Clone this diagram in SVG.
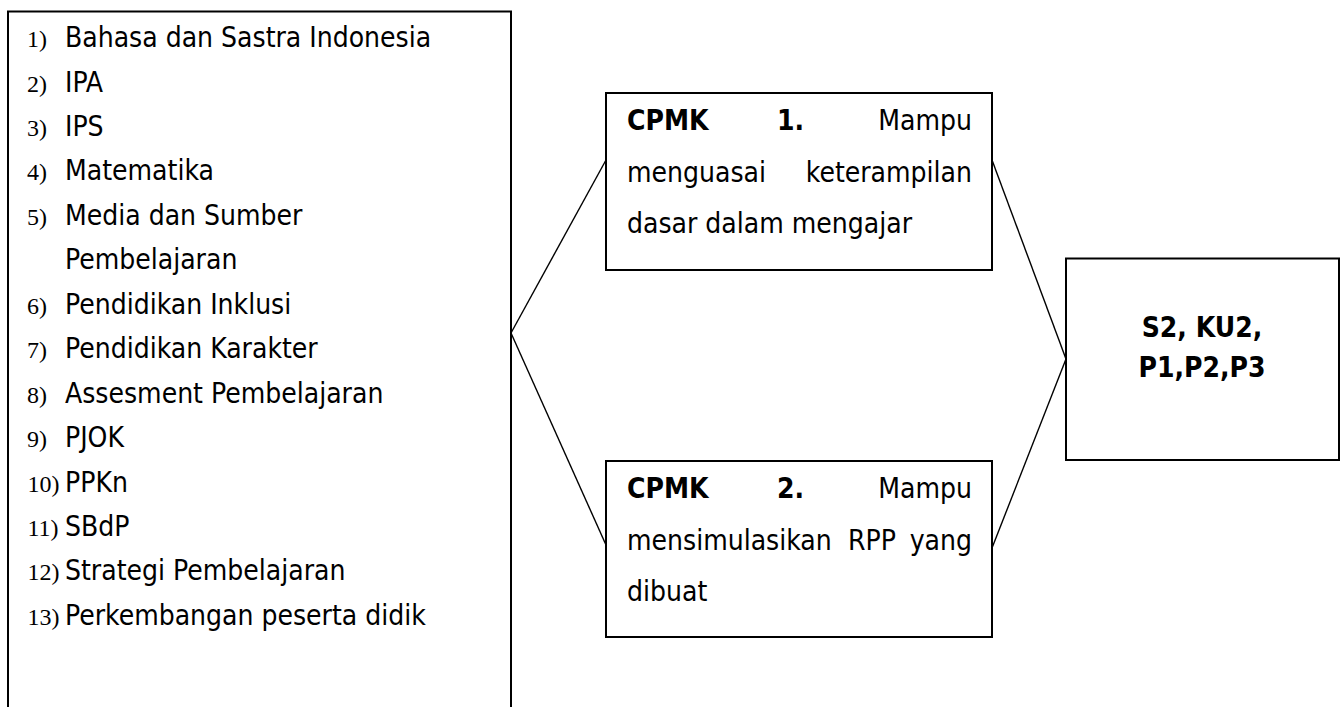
<svg xmlns="http://www.w3.org/2000/svg" width="1341" height="707" viewBox="0 0 1341 707">
<style>
.box{fill:#fff;stroke:#000;stroke-width:2}
.ln{stroke:#000;stroke-width:1.4;fill:none}
.t{font-family:"DejaVu Sans","Liberation Sans",sans-serif;font-stretch:condensed;font-size:28px;fill:#000}
.b{font-weight:bold}
.n{font-family:"Liberation Serif","Times New Roman",serif;font-size:24px;fill:#000}
</style>
<rect width="1341" height="707" fill="#fff"/>
<g id="connectors">
<line class="ln" x1="511" y1="333" x2="606" y2="160"/>
<line class="ln" x1="511" y1="333" x2="606" y2="545"/>
<line class="ln" x1="992" y1="160" x2="1066" y2="359"/>
<line class="ln" x1="992" y1="548" x2="1066" y2="359"/>
</g>
<g id="mata-kuliah">
<rect class="box" x="8" y="11.5" width="503" height="720"/>
<g class="n">
<text x="27" y="47">1)</text>
<text x="27" y="91.5">2)</text>
<text x="27" y="136">3)</text>
<text x="27" y="180.4">4)</text>
<text x="27" y="224.8">5)</text>
<text x="27" y="313.7">6)</text>
<text x="27" y="358.2">7)</text>
<text x="27" y="402.6">8)</text>
<text x="27" y="447">9)</text>
<text x="27.5" y="491.5">10)</text>
<text x="27.5" y="536">11)</text>
<text x="27.5" y="580.4">12)</text>
<text x="27.5" y="624.8">13)</text>
</g>
<g class="t">
<text x="65" y="47">Bahasa dan Sastra Indonesia</text>
<text x="65" y="91.5">IPA</text>
<text x="65" y="136">IPS</text>
<text x="65" y="180.4">Matematika</text>
<text x="65" y="224.8">Media dan Sumber</text>
<text x="65" y="269.3">Pembelajaran</text>
<text x="65" y="313.7">Pendidikan Inklusi</text>
<text x="65" y="358.2">Pendidikan Karakter</text>
<text x="65" y="402.6">Assesment Pembelajaran</text>
<text x="65" y="447">PJOK</text>
<text x="65" y="491.5">PPKn</text>
<text x="65" y="536">SBdP</text>
<text x="65" y="580.4">Strategi Pembelajaran</text>
<text x="65" y="624.8">Perkembangan peserta didik</text>
</g>
</g>
<g id="cpmk1">
<rect class="box" x="606" y="93" width="386" height="177"/>
<g class="t">
<text class="b" x="627" y="130">CPMK</text>
<text class="b" x="777" y="130">1.</text>
<text x="972" y="130" text-anchor="end">Mampu</text>
<text x="627" y="181.5">menguasai</text>
<text x="972" y="181.5" text-anchor="end">keterampilan</text>
<text x="627" y="233">dasar dalam mengajar</text>
</g>
</g>
<g id="cpmk2">
<rect class="box" x="606" y="461" width="386" height="176"/>
<g class="t">
<text class="b" x="627" y="498">CPMK</text>
<text class="b" x="777" y="498">2.</text>
<text x="972" y="498" text-anchor="end">Mampu</text>
<text x="627" y="549.5">mensimulasikan</text>
<text x="848" y="549.5">RPP</text>
<text x="972" y="549.5" text-anchor="end">yang</text>
<text x="627" y="601">dibuat</text>
</g>
</g>
<g id="cpl">
<rect class="box" x="1066" y="258.5" width="273" height="201.5"/>
<g class="t b" text-anchor="middle">
<text x="1202" y="336.5">S2, KU2,</text>
<text x="1202" y="376.5">P1,P2,P3</text>
</g>
</g>
</svg>
